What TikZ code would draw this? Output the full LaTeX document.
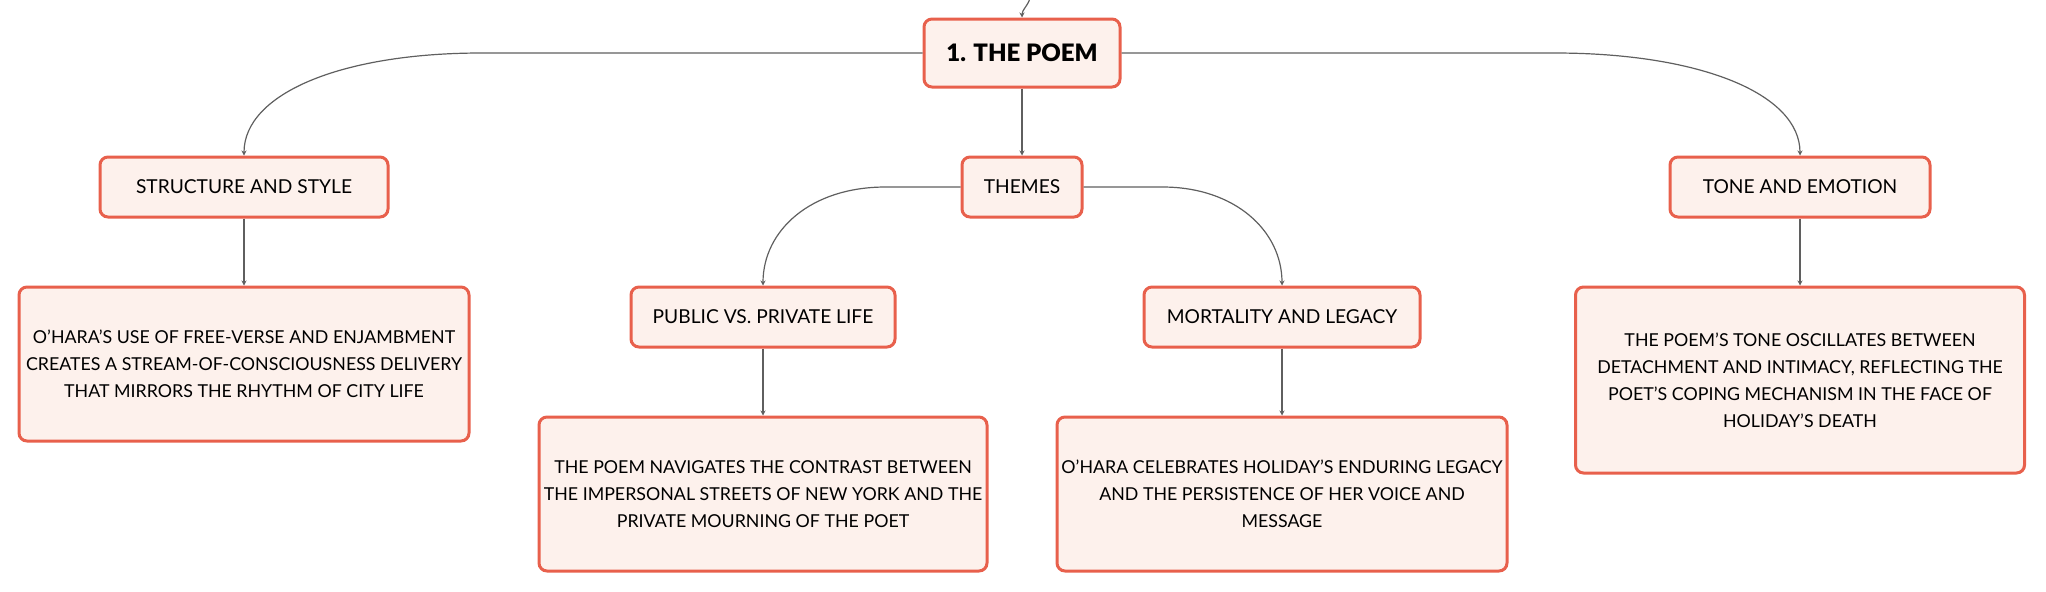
\documentclass[tikz,border=0pt]{standalone}
\usepackage{fontspec}
\setmainfont{Lato}
\newfontfamily\heavyfont{Lato Black}
\usepackage{tikz}
\usetikzlibrary{arrows.meta}
\definecolor{boxline}{RGB}{232,96,76}
\definecolor{boxfill}{RGB}{253,241,236}
\definecolor{linkgray}{RGB}{95,95,95}

\begin{document}
\begin{tikzpicture}[x=0.5pt,y=-0.5pt,
    topic/.style={draw=boxline,fill=boxfill,line width=1.5pt,rounded corners=4pt,
        align=center,font=\fontsize{9.6}{12}\selectfont,minimum height=30pt,inner sep=0pt},
    root/.style={topic,font=\fontsize{12}{14}\selectfont\heavyfont,minimum height=34pt},
    desc/.style={topic,font=\fontsize{8.9}{13.5}\selectfont,minimum height=77pt},
    link/.style={draw=linkgray,line width=0.6pt,-{Stealth[length=2.5pt,width=2.5pt]}}]
            \useasboundingbox (0,0) rectangle (2046,591);
            \node[root,minimum width=98pt] (poem) at (1022,53) {1. THE POEM};
            \node[topic,minimum width=60pt] (themes) at (1022,187) {THEMES};
            \node[topic,minimum width=144pt] (structure) at (244,187) {STRUCTURE AND STYLE};
            \node[topic,minimum width=130pt] (tone) at (1800,187) {TONE AND EMOTION};
            \node[topic,minimum width=132pt] (public) at (763,317) {PUBLIC VS. PRIVATE LIFE};
            \node[topic,minimum width=138pt] (mortality) at (1282,317) {MORTALITY AND LEGACY};
            \node[desc,minimum width=225pt] (structuretext) at (244,364) {O'HARA'S USE OF FREE-VERSE AND ENJAMBMENT\\CREATES A STREAM-OF-CONSCIOUSNESS DELIVERY\\THAT MIRRORS THE RHYTHM OF CITY LIFE};
            \node[desc,minimum width=224pt] (publictext) at (763,494) {THE POEM NAVIGATES THE CONTRAST BETWEEN\\THE IMPERSONAL STREETS OF NEW YORK AND THE\\PRIVATE MOURNING OF THE POET};
            \node[desc,minimum width=225pt] (mortalitytext) at (1282,494) {O'HARA CELEBRATES HOLIDAY'S ENDURING LEGACY\\AND THE PERSISTENCE OF HER VOICE AND\\MESSAGE};
            \node[desc,minimum width=224.5pt,minimum height=93pt] (tonetext) at (1800,380) {THE POEM'S TONE OSCILLATES BETWEEN\\DETACHMENT AND INTIMACY, REFLECTING THE\\POET'S COPING MECHANISM IN THE FACE OF\\HOLIDAY'S DEATH};
            \coordinate (parent) at (1030,-2);
            % links
            \draw[link] (parent) .. controls +(-2,8) and +(0,-8) .. (poem.north);
            \draw[link] (poem.west) -- ++(-441,0) .. controls +(-140,0) and +(0,-62) .. (structure.north);
            \draw[link] (poem.east) -- ++(433,0) .. controls +(145,0) and +(0,-62) .. (tone.north);
            \draw[link] (poem.south) -- (themes.north);
            \draw[link] (themes.west) -- ++(-75,0) .. controls +(-75,0) and +(0,-55) .. (public.north);
            \draw[link] (themes.east) -- ++(79,0) .. controls +(72,0) and +(0,-55) .. (mortality.north);
            \draw[link] (structure.south) -- (structuretext.north);
            \draw[link] (public.south) -- (publictext.north);
            \draw[link] (mortality.south) -- (mortalitytext.north);
            \draw[link] (tone.south) -- (tonetext.north);
        \end{tikzpicture}
\end{document}
